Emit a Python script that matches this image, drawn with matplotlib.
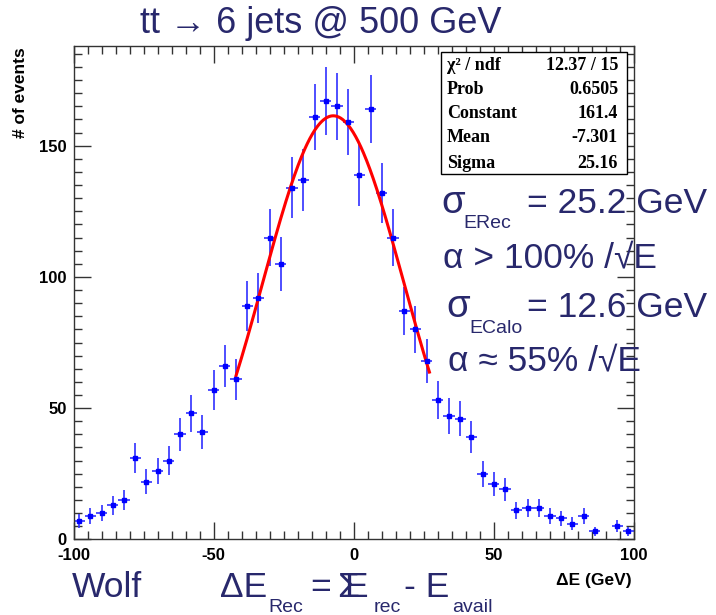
import numpy as np
import matplotlib
matplotlib.use("Agg")
import matplotlib.pyplot as plt
from matplotlib.patches import Rectangle
from matplotlib.ticker import MultipleLocator

plt.rcParams["axes.unicode_minus"] = False

# ---------------- data ----------------
bin_width = 4
bin_centers = np.arange(-98, 100, bin_width)
counts = [7, 9, 10, 13, 15, 31, 22, 26, 30, 40,
          48, 41, 57, 66, 61, 89, 92, 115, 105, 134,
          137, 161, 167, 165, 159, 139, 164, 132, 115, 87,
          80, 68, 53, 47, 46, 39, 25, 21, 19, 11,
          12, 12, 9, 8, 6, 9, 3, 0, 5, 3]

fit_constant = 161.4
fit_mean = -7.301
fit_sigma = 25.16
fit_range = (-42.0, 27.0)

stats_labels = ["χ² / ndf", "Prob", "Constant", "Mean", "Sigma"]
stats_values = ["12.37 / 15", "0.6505", "161.4", "-7.301", "25.16"]

x_ticks = [-100, -50, 0, 50, 100]
y_ticks = [0, 50, 100, 150]

title = "tt → 6 jets @ 500 GeV"
navy = "#28286c"

# ---------------- figure ----------------
W, H = 716, 615
fig = plt.figure(figsize=(W / 100, H / 100), dpi=100)
sans = ["Liberation Sans", "DejaVu Sans"]
serif = ["Liberation Serif", "DejaVu Serif"]


def fx(x):
    return x / W


def fy(y):
    return 1 - y / H


ax_l, ax_r, ax_t, ax_b = 73.5, 634, 46, 539.3
ax = fig.add_axes([fx(ax_l), fy(ax_b), fx(ax_r - ax_l), (ax_b - ax_t) / H])

counts_arr = np.array(counts, dtype=float)
mask = counts_arr > 0
ax.errorbar(bin_centers[mask], counts_arr[mask],
            yerr=np.sqrt(counts_arr[mask]), xerr=bin_width / 2,
            fmt="s", color="#0000ff", ms=2.5, elinewidth=1.2,
            capsize=0, ecolor="#3030ff")

xf = np.linspace(fit_range[0], fit_range[1], 300)
yf = fit_constant * np.exp(-0.5 * ((xf - fit_mean) / fit_sigma) ** 2)
ax.plot(xf, yf, color="#ff0000", lw=2.2)

ax.set_xlim(-100, 100)
ax.set_ylim(0, 188)
ax.set_xticks(x_ticks)
ax.set_yticks(y_ticks)
ax.xaxis.set_minor_locator(MultipleLocator(5))
ax.yaxis.set_minor_locator(MultipleLocator(5))
ax.tick_params(which="both", direction="in", top=True, right=True,
               color="#333333", width=1)
ax.tick_params(which="major", length=12)
ax.tick_params(which="minor", length=6)
ax.tick_params(axis="x", which="major", pad=6.5)
ax.tick_params(axis="y", which="major", pad=5)
for lab in ax.get_xticklabels() + ax.get_yticklabels():
    lab.set_fontfamily(sans)
    lab.set_fontweight("bold")
    lab.set_fontsize(12)
for s in ax.spines.values():
    s.set_color("#333333")
    s.set_linewidth(1)

# axis titles
fig.text(fx(21), fy(47), "# of events", rotation=90, ha="center", va="top",
         fontsize=12.5, fontweight="bold", family=sans)
fig.text(fx(632), fy(580), "ΔE (GeV)", ha="right", va="center",
         fontsize=12.5, fontweight="bold", family=sans)

# stats box
bx0, by0, bx1, by1 = 441, 52, 627, 174
fig.patches.append(Rectangle((fx(bx0), fy(by1)), fx(bx1 - bx0), (by1 - by0) / H,
                             transform=fig.transFigure, facecolor="white",
                             edgecolor="black", lw=1, zorder=5))
row_y = [65, 90, 114, 138, 163]
for lbl, val, ry in zip(stats_labels, stats_values, row_y):
    fig.text(fx(447), fy(ry), lbl, ha="left", va="center", fontsize=13,
             fontweight="bold", family=serif, zorder=6)
    fig.text(fx(618), fy(ry), val, ha="right", va="center", fontsize=13,
             fontweight="bold", family=serif, zorder=6)

# title
fig.text(fx(321), fy(33), title, ha="center", va="baseline", fontsize=26,
         color=navy, family=sans)

# annotations (right)
big, small = 25.5, 14
fig.text(fx(441), fy(213), "σ", fontsize=big + 2, color=navy, family=sans, va="baseline")
fig.text(fx(463), fy(228), "ERec", fontsize=small, color=navy, family=sans, va="baseline")
fig.text(fx(527), fy(213), "= 25.2 GeV", fontsize=big, color=navy, family=sans, va="baseline")
fig.text(fx(443), fy(267), "α > 100% /√E", fontsize=big, color=navy, family=sans, va="baseline")
fig.text(fx(446), fy(317), "σ", fontsize=big + 2, color=navy, family=sans, va="baseline")
fig.text(fx(469), fy(333), "ECalo", fontsize=small, color=navy, family=sans, va="baseline")
fig.text(fx(527), fy(317), "= 12.6 GeV", fontsize=big, color=navy, family=sans, va="baseline")
fig.text(fx(448), fy(370), "α ≈ 55% /√E", fontsize=big, color=navy, family=sans, va="baseline")

# bottom annotations
fig.text(fx(72), fy(597), "Wolf", fontsize=big, color=navy, family=sans, va="baseline")
fig.text(fx(220), fy(597), "ΔE", fontsize=big, color=navy, family=sans, va="baseline")
fig.text(fx(268), fy(612), "Rec", fontsize=small, color=navy, family=sans, va="baseline")
fig.text(fx(310), fy(597), "=", fontsize=big, color=navy, family=sans, va="baseline")
fig.text(fx(337), fy(597), "Σ", fontsize=big, color=navy, family=sans, va="baseline")
fig.text(fx(344), fy(597), "E", fontsize=big, color=navy, family=sans, va="baseline")
fig.text(fx(374), fy(612), "rec", fontsize=small, color=navy, family=sans, va="baseline")
fig.text(fx(404), fy(597), "- E", fontsize=big, color=navy, family=sans, va="baseline")
fig.text(fx(452), fy(612), "avail", fontsize=small, color=navy, family=sans, va="baseline")

fig.savefig("out.png", dpi=100, facecolor="white")
